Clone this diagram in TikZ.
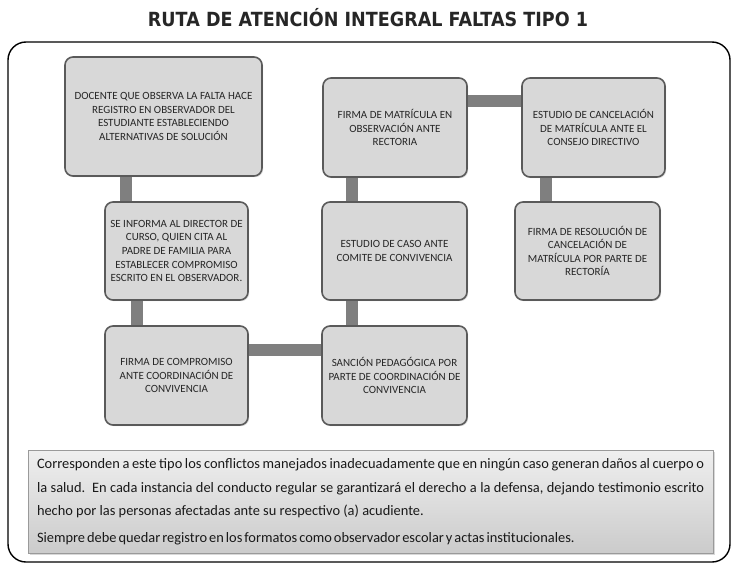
\documentclass[tikz,border=0pt]{standalone}
\usepackage{fontspec}
\setmainfont{Carlito}
\newfontfamily\titlefont[FakeStretch=0.9]{DejaVu Sans}
\usetikzlibrary{shadows}
\definecolor{boxfill}{HTML}{D8D8D8}
\definecolor{boxborder}{HTML}{5A5A5A}
\definecolor{barcol}{HTML}{7F7F7F}
\definecolor{boxtext}{HTML}{262626}
\definecolor{notetop}{HTML}{EFEFEF}
\definecolor{notebot}{HTML}{CBCBCB}
\definecolor{noteborder}{HTML}{9A9A9A}
\begin{document}
\begin{tikzpicture}[x=1pt,y=-1pt,
  stepbox/.style={draw=boxborder, line width=1.6pt, fill=boxfill, rounded corners=8pt,
    align=center, font=\fontsize{11}{13.6}\selectfont, text=boxtext, inner sep=3pt,
    drop shadow={shadow xshift=1.2pt, shadow yshift=-1.2pt, opacity=0.25}},
  geo/.style={inner sep=0pt},
  bar/.style={draw=barcol, line width=12pt},
  notebox/.style={draw=noteborder, line width=0.8pt, top color=notetop, bottom color=notebot,
    minimum width=685pt, minimum height=103pt, text width=667pt, align=justify,
    font=\fontsize{14.4}{23.5}\selectfont, text=black!90,
    drop shadow={shadow xshift=1.5pt, shadow yshift=-1.5pt, opacity=0.3}}]
\useasboundingbox (0,0) rectangle (736,565);
\fill[white] (0,0) rectangle (736,565);
\node[font=\titlefont\bfseries\fontsize{19.5}{22}\selectfont, text=black!85] (title) at (368,18) {RUTA DE ATENCIÓN INTEGRAL FALTAS TIPO 1};
\draw[line width=1.4pt, rounded corners=18pt] (8,42) rectangle (730,562);
\coordinate (cA) at (126,0);
\coordinate (cB) at (137,0);
\coordinate (cC) at (0,350);
\coordinate (cD) at (352,0);
\coordinate (cE) at (0,101);
\coordinate (cF) at (546,0);
\path
 (163.5,116.5) coordinate (p1)
 (176.5,251) coordinate (p2)
 (176.5,375.5) coordinate (p3)
 (394.5,375.5) coordinate (p4)
 (394.5,251) coordinate (p5)
 (395,127.5) coordinate (p6)
 (593.5,127.5) coordinate (p7)
 (587.5,251) coordinate (p8);
\node[geo, minimum width=197pt, minimum height=119pt] (g1) at (p1) {};
\node[geo, minimum width=143pt, minimum height=98pt] (g2) at (p2) {};
\node[geo, minimum width=143pt, minimum height=99pt] (g3) at (p3) {};
\node[geo, minimum width=145pt, minimum height=99pt] (g4) at (p4) {};
\node[geo, minimum width=145pt, minimum height=98pt] (g5) at (p5) {};
\node[geo, minimum width=144pt, minimum height=99pt] (g6) at (p6) {};
\node[geo, minimum width=143pt, minimum height=99pt] (g7) at (p7) {};
\node[geo, minimum width=145pt, minimum height=98pt] (g8) at (p8) {};
\draw[bar] (g1.south -| cA) -- (g2.north -| cA);
\draw[bar] (g2.south -| cB) -- (g3.north -| cB);
\draw[bar] (g3.east |- cC) -- (g4.west |- cC);
\draw[bar] (g4.north -| cD) -- (g5.south -| cD);
\draw[bar] (g5.north -| cD) -- (g6.south -| cD);
\draw[bar] (g6.east |- cE) -- (g7.west |- cE);
\draw[bar] (g7.south -| cF) -- (g8.north -| cF);
\node[stepbox, minimum width=197pt, minimum height=119pt] (b1) at (p1) {DOCENTE QUE OBSERVA LA FALTA HACE\\REGISTRO EN OBSERVADOR DEL\\ESTUDIANTE ESTABLECIENDO\\ALTERNATIVAS DE SOLUCIÓN};
\node[stepbox, minimum width=143pt, minimum height=98pt] (b2) at (p2) {SE INFORMA AL DIRECTOR DE\\CURSO, QUIEN CITA AL\\PADRE DE FAMILIA PARA\\ESTABLECER COMPROMISO\\ESCRITO EN EL OBSERVADOR.};
\node[stepbox, minimum width=143pt, minimum height=99pt] (b3) at (p3) {FIRMA DE COMPROMISO\\ANTE COORDINACIÓN DE\\CONVIVENCIA};
\node[stepbox, minimum width=145pt, minimum height=99pt] (b4) at (p4) {SANCIÓN PEDAGÓGICA POR\\PARTE DE COORDINACIÓN DE\\CONVIVENCIA};
\node[stepbox, minimum width=145pt, minimum height=98pt] (b5) at (p5) {ESTUDIO DE CASO ANTE\\COMITE DE CONVIVENCIA};
\node[stepbox, minimum width=144pt, minimum height=99pt] (b6) at (p6) {FIRMA DE MATRÍCULA EN\\OBSERVACIÓN ANTE\\RECTORIA};
\node[stepbox, minimum width=143pt, minimum height=99pt] (b7) at (p7) {ESTUDIO DE CANCELACIÓN\\DE MATRÍCULA ANTE EL\\CONSEJO DIRECTIVO};
\node[stepbox, minimum width=145pt, minimum height=98pt] (b8) at (p8) {FIRMA DE RESOLUCIÓN DE\\CANCELACIÓN DE\\MATRÍCULA POR PARTE DE\\RECTORÍA};
\node[notebox] (note) at (370.5,502) {Corresponden a este tipo los conflictos manejados inadecuadamente que en ningún caso generan daños al cuerpo o\linebreak la salud.\ \ En cada instancia del conducto regular se garantizará el derecho a la defensa, dejando testimonio escrito\linebreak hecho por las personas afectadas ante su respectivo (a) acudiente.\par\vspace{3.5pt}{\spaceskip=2pt Siempre debe quedar registro en los formatos como observador escolar y actas institucionales.}};
\end{tikzpicture}
\end{document}
